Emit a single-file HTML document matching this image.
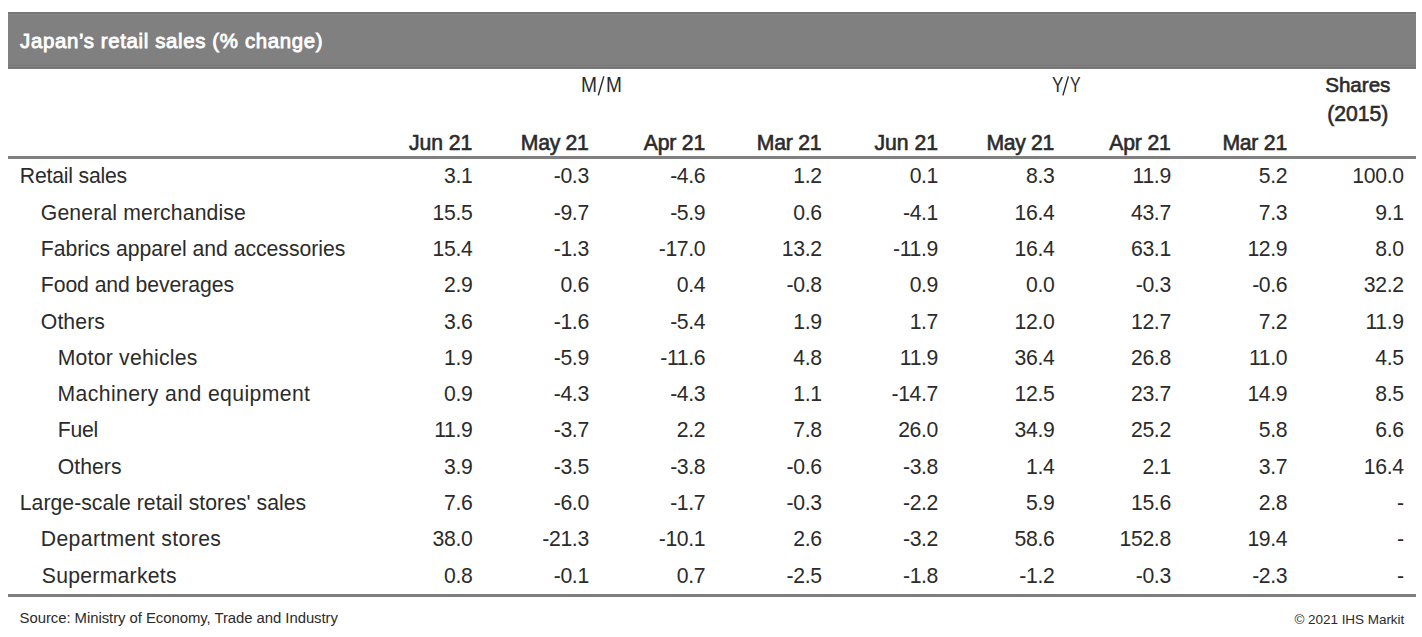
<!DOCTYPE html>
<html><head><meta charset="utf-8"><title>Japan's retail sales</title>
<style>
html,body{margin:0;padding:0;background:#fff;}
body{width:1422px;height:637px;position:relative;overflow:hidden;font-family:"Liberation Sans", sans-serif;}
.t{position:absolute;white-space:nowrap;line-height:1;}
.bar{position:absolute;left:8px;width:1408px;top:12px;height:57px;background:#7f807f;}
.l{position:absolute;left:8px;width:1408px;}
</style></head><body>
<div class="bar"></div>
<div class="l" style="top:12px;height:2px;background:#767676"></div>
<div class="l" style="top:14px;height:1px;background:#878787"></div>
<div class="l" style="top:65px;height:1px;background:#757575"></div>
<div class="l" style="top:66px;height:1px;background:#868686"></div>
<div class="l" style="top:67px;height:1px;background:#6f6f6f"></div>
<div class="l" style="top:68px;height:1px;background:#7b7b7b"></div>
<div class="l" style="top:156px;height:3px;background:#808080"></div>
<div class="l" style="top:594px;height:3px;background:#7e7e7e"></div>
<svg width="1422" height="637" style="position:absolute;left:0;top:0"><g stroke="#2b2b2b" stroke-width="1.45" stroke-linecap="butt"><line x1="598.3" y1="95.4" x2="603.8" y2="76.4"/><line x1="1062.9" y1="95.4" x2="1068.4" y2="76.4"/></g></svg>
<div class="t" style="left:20.12px;top:31px;font-size:20.4px;font-weight:400;color:#ffffff;letter-spacing:0.645px;-webkit-text-stroke:0.85px #ffffff;">Japan’s retail sales (% change)</div>
<div class="t" style="left:580.59px;top:74px;font-size:21.2px;font-weight:400;color:#2b2b2b;transform:scaleX(0.9067);transform-origin:0 0;">M</div>
<div class="t" style="left:606.30px;top:74px;font-size:21.2px;font-weight:400;color:#2b2b2b;transform:scaleX(0.9000);transform-origin:0 0;">M</div>
<div class="t" style="left:1051.50px;top:74px;font-size:21.2px;font-weight:400;color:#2b2b2b;transform:scaleX(0.8071);transform-origin:0 0;">Y</div>
<div class="t" style="left:1070.40px;top:74px;font-size:21.2px;font-weight:400;color:#2b2b2b;transform:scaleX(0.7500);transform-origin:0 0;">Y</div>
<div class="t" style="left:1325.20px;top:75px;font-size:20.6px;font-weight:400;color:#2b2b2b;letter-spacing:-0.011px;-webkit-text-stroke:0.6px #2b2b2b;">Shares</div>
<div class="t" style="left:1327.30px;top:103px;font-size:21.2px;font-weight:400;color:#2b2b2b;letter-spacing:-0.038px;-webkit-text-stroke:0.6px #2b2b2b;">(2015)</div>
<div class="t" style="left:408.90px;top:132px;font-size:21.2px;font-weight:400;color:#2b2b2b;letter-spacing:-0.026px;-webkit-text-stroke:0.6px #2b2b2b;">Jun 21</div>
<div class="t" style="left:520.80px;top:132px;font-size:21.2px;font-weight:400;color:#2b2b2b;letter-spacing:-0.299px;-webkit-text-stroke:0.6px #2b2b2b;">May 21</div>
<div class="t" style="left:643.70px;top:132px;font-size:21.2px;font-weight:400;color:#2b2b2b;letter-spacing:-0.188px;-webkit-text-stroke:0.6px #2b2b2b;">Apr 21</div>
<div class="t" style="left:756.80px;top:132px;font-size:21.2px;font-weight:400;color:#2b2b2b;letter-spacing:-0.232px;-webkit-text-stroke:0.6px #2b2b2b;">Mar 21</div>
<div class="t" style="left:874.50px;top:132px;font-size:21.2px;font-weight:400;color:#2b2b2b;letter-spacing:-0.026px;-webkit-text-stroke:0.6px #2b2b2b;">Jun 21</div>
<div class="t" style="left:986.40px;top:132px;font-size:21.2px;font-weight:400;color:#2b2b2b;letter-spacing:-0.299px;-webkit-text-stroke:0.6px #2b2b2b;">May 21</div>
<div class="t" style="left:1109.30px;top:132px;font-size:21.2px;font-weight:400;color:#2b2b2b;letter-spacing:-0.188px;-webkit-text-stroke:0.6px #2b2b2b;">Apr 21</div>
<div class="t" style="left:1222.40px;top:132px;font-size:21.2px;font-weight:400;color:#2b2b2b;letter-spacing:-0.232px;-webkit-text-stroke:0.6px #2b2b2b;">Mar 21</div>
<div class="t" style="left:19.80px;top:165px;font-size:21.2px;font-weight:400;color:#2b2b2b;letter-spacing:-0.193px;">Retail sales</div>
<div class="t" style="right:949.57px;top:165px;font-size:21.2px;font-weight:400;color:#2b2b2b;letter-spacing:-0.350px;">3.1</div>
<div class="t" style="right:833.17px;top:165px;font-size:21.2px;font-weight:400;color:#2b2b2b;letter-spacing:-0.350px;">-0.3</div>
<div class="t" style="right:716.77px;top:165px;font-size:21.2px;font-weight:400;color:#2b2b2b;letter-spacing:-0.350px;">-4.6</div>
<div class="t" style="right:600.37px;top:165px;font-size:21.2px;font-weight:400;color:#2b2b2b;letter-spacing:-0.350px;">1.2</div>
<div class="t" style="right:483.97px;top:165px;font-size:21.2px;font-weight:400;color:#2b2b2b;letter-spacing:-0.350px;">0.1</div>
<div class="t" style="right:367.57px;top:165px;font-size:21.2px;font-weight:400;color:#2b2b2b;letter-spacing:-0.350px;">8.3</div>
<div class="t" style="right:251.17px;top:165px;font-size:21.2px;font-weight:400;color:#2b2b2b;letter-spacing:-0.350px;">11.9</div>
<div class="t" style="right:134.77px;top:165px;font-size:21.2px;font-weight:400;color:#2b2b2b;letter-spacing:-0.350px;">5.2</div>
<div class="t" style="right:18.37px;top:165px;font-size:21.2px;font-weight:400;color:#2b2b2b;letter-spacing:-0.350px;">100.0</div>
<div class="t" style="left:40.80px;top:202px;font-size:21.2px;font-weight:400;color:#2b2b2b;letter-spacing:0.140px;">General merchandise</div>
<div class="t" style="right:949.57px;top:202px;font-size:21.2px;font-weight:400;color:#2b2b2b;letter-spacing:-0.350px;">15.5</div>
<div class="t" style="right:833.17px;top:202px;font-size:21.2px;font-weight:400;color:#2b2b2b;letter-spacing:-0.350px;">-9.7</div>
<div class="t" style="right:716.77px;top:202px;font-size:21.2px;font-weight:400;color:#2b2b2b;letter-spacing:-0.350px;">-5.9</div>
<div class="t" style="right:600.37px;top:202px;font-size:21.2px;font-weight:400;color:#2b2b2b;letter-spacing:-0.350px;">0.6</div>
<div class="t" style="right:483.97px;top:202px;font-size:21.2px;font-weight:400;color:#2b2b2b;letter-spacing:-0.350px;">-4.1</div>
<div class="t" style="right:367.57px;top:202px;font-size:21.2px;font-weight:400;color:#2b2b2b;letter-spacing:-0.350px;">16.4</div>
<div class="t" style="right:251.17px;top:202px;font-size:21.2px;font-weight:400;color:#2b2b2b;letter-spacing:-0.350px;">43.7</div>
<div class="t" style="right:134.77px;top:202px;font-size:21.2px;font-weight:400;color:#2b2b2b;letter-spacing:-0.350px;">7.3</div>
<div class="t" style="right:18.37px;top:202px;font-size:21.2px;font-weight:400;color:#2b2b2b;letter-spacing:-0.350px;">9.1</div>
<div class="t" style="left:40.80px;top:238px;font-size:21.2px;font-weight:400;color:#2b2b2b;letter-spacing:-0.014px;">Fabrics apparel and accessories</div>
<div class="t" style="right:949.57px;top:238px;font-size:21.2px;font-weight:400;color:#2b2b2b;letter-spacing:-0.350px;">15.4</div>
<div class="t" style="right:833.17px;top:238px;font-size:21.2px;font-weight:400;color:#2b2b2b;letter-spacing:-0.350px;">-1.3</div>
<div class="t" style="right:716.77px;top:238px;font-size:21.2px;font-weight:400;color:#2b2b2b;letter-spacing:-0.350px;">-17.0</div>
<div class="t" style="right:600.37px;top:238px;font-size:21.2px;font-weight:400;color:#2b2b2b;letter-spacing:-0.350px;">13.2</div>
<div class="t" style="right:483.97px;top:238px;font-size:21.2px;font-weight:400;color:#2b2b2b;letter-spacing:-0.350px;">-11.9</div>
<div class="t" style="right:367.57px;top:238px;font-size:21.2px;font-weight:400;color:#2b2b2b;letter-spacing:-0.350px;">16.4</div>
<div class="t" style="right:251.17px;top:238px;font-size:21.2px;font-weight:400;color:#2b2b2b;letter-spacing:-0.350px;">63.1</div>
<div class="t" style="right:134.77px;top:238px;font-size:21.2px;font-weight:400;color:#2b2b2b;letter-spacing:-0.350px;">12.9</div>
<div class="t" style="right:18.37px;top:238px;font-size:21.2px;font-weight:400;color:#2b2b2b;letter-spacing:-0.350px;">8.0</div>
<div class="t" style="left:40.80px;top:274px;font-size:21.2px;font-weight:400;color:#2b2b2b;letter-spacing:-0.069px;">Food and beverages</div>
<div class="t" style="right:949.57px;top:274px;font-size:21.2px;font-weight:400;color:#2b2b2b;letter-spacing:-0.350px;">2.9</div>
<div class="t" style="right:833.17px;top:274px;font-size:21.2px;font-weight:400;color:#2b2b2b;letter-spacing:-0.350px;">0.6</div>
<div class="t" style="right:716.77px;top:274px;font-size:21.2px;font-weight:400;color:#2b2b2b;letter-spacing:-0.350px;">0.4</div>
<div class="t" style="right:600.37px;top:274px;font-size:21.2px;font-weight:400;color:#2b2b2b;letter-spacing:-0.350px;">-0.8</div>
<div class="t" style="right:483.97px;top:274px;font-size:21.2px;font-weight:400;color:#2b2b2b;letter-spacing:-0.350px;">0.9</div>
<div class="t" style="right:367.57px;top:274px;font-size:21.2px;font-weight:400;color:#2b2b2b;letter-spacing:-0.350px;">0.0</div>
<div class="t" style="right:251.17px;top:274px;font-size:21.2px;font-weight:400;color:#2b2b2b;letter-spacing:-0.350px;">-0.3</div>
<div class="t" style="right:134.77px;top:274px;font-size:21.2px;font-weight:400;color:#2b2b2b;letter-spacing:-0.350px;">-0.6</div>
<div class="t" style="right:18.37px;top:274px;font-size:21.2px;font-weight:400;color:#2b2b2b;letter-spacing:-0.350px;">32.2</div>
<div class="t" style="left:40.80px;top:311px;font-size:21.2px;font-weight:400;color:#2b2b2b;letter-spacing:0.102px;">Others</div>
<div class="t" style="right:949.57px;top:311px;font-size:21.2px;font-weight:400;color:#2b2b2b;letter-spacing:-0.350px;">3.6</div>
<div class="t" style="right:833.17px;top:311px;font-size:21.2px;font-weight:400;color:#2b2b2b;letter-spacing:-0.350px;">-1.6</div>
<div class="t" style="right:716.77px;top:311px;font-size:21.2px;font-weight:400;color:#2b2b2b;letter-spacing:-0.350px;">-5.4</div>
<div class="t" style="right:600.37px;top:311px;font-size:21.2px;font-weight:400;color:#2b2b2b;letter-spacing:-0.350px;">1.9</div>
<div class="t" style="right:483.97px;top:311px;font-size:21.2px;font-weight:400;color:#2b2b2b;letter-spacing:-0.350px;">1.7</div>
<div class="t" style="right:367.57px;top:311px;font-size:21.2px;font-weight:400;color:#2b2b2b;letter-spacing:-0.350px;">12.0</div>
<div class="t" style="right:251.17px;top:311px;font-size:21.2px;font-weight:400;color:#2b2b2b;letter-spacing:-0.350px;">12.7</div>
<div class="t" style="right:134.77px;top:311px;font-size:21.2px;font-weight:400;color:#2b2b2b;letter-spacing:-0.350px;">7.2</div>
<div class="t" style="right:18.37px;top:311px;font-size:21.2px;font-weight:400;color:#2b2b2b;letter-spacing:-0.350px;">11.9</div>
<div class="t" style="left:57.70px;top:347px;font-size:21.2px;font-weight:400;color:#2b2b2b;letter-spacing:0.231px;">Motor vehicles</div>
<div class="t" style="right:949.57px;top:347px;font-size:21.2px;font-weight:400;color:#2b2b2b;letter-spacing:-0.350px;">1.9</div>
<div class="t" style="right:833.17px;top:347px;font-size:21.2px;font-weight:400;color:#2b2b2b;letter-spacing:-0.350px;">-5.9</div>
<div class="t" style="right:716.77px;top:347px;font-size:21.2px;font-weight:400;color:#2b2b2b;letter-spacing:-0.350px;">-11.6</div>
<div class="t" style="right:600.37px;top:347px;font-size:21.2px;font-weight:400;color:#2b2b2b;letter-spacing:-0.350px;">4.8</div>
<div class="t" style="right:483.97px;top:347px;font-size:21.2px;font-weight:400;color:#2b2b2b;letter-spacing:-0.350px;">11.9</div>
<div class="t" style="right:367.57px;top:347px;font-size:21.2px;font-weight:400;color:#2b2b2b;letter-spacing:-0.350px;">36.4</div>
<div class="t" style="right:251.17px;top:347px;font-size:21.2px;font-weight:400;color:#2b2b2b;letter-spacing:-0.350px;">26.8</div>
<div class="t" style="right:134.77px;top:347px;font-size:21.2px;font-weight:400;color:#2b2b2b;letter-spacing:-0.350px;">11.0</div>
<div class="t" style="right:18.37px;top:347px;font-size:21.2px;font-weight:400;color:#2b2b2b;letter-spacing:-0.350px;">4.5</div>
<div class="t" style="left:57.50px;top:383px;font-size:21.2px;font-weight:400;color:#2b2b2b;letter-spacing:0.395px;">Machinery and equipment</div>
<div class="t" style="right:949.57px;top:383px;font-size:21.2px;font-weight:400;color:#2b2b2b;letter-spacing:-0.350px;">0.9</div>
<div class="t" style="right:833.17px;top:383px;font-size:21.2px;font-weight:400;color:#2b2b2b;letter-spacing:-0.350px;">-4.3</div>
<div class="t" style="right:716.77px;top:383px;font-size:21.2px;font-weight:400;color:#2b2b2b;letter-spacing:-0.350px;">-4.3</div>
<div class="t" style="right:600.37px;top:383px;font-size:21.2px;font-weight:400;color:#2b2b2b;letter-spacing:-0.350px;">1.1</div>
<div class="t" style="right:483.97px;top:383px;font-size:21.2px;font-weight:400;color:#2b2b2b;letter-spacing:-0.350px;">-14.7</div>
<div class="t" style="right:367.57px;top:383px;font-size:21.2px;font-weight:400;color:#2b2b2b;letter-spacing:-0.350px;">12.5</div>
<div class="t" style="right:251.17px;top:383px;font-size:21.2px;font-weight:400;color:#2b2b2b;letter-spacing:-0.350px;">23.7</div>
<div class="t" style="right:134.77px;top:383px;font-size:21.2px;font-weight:400;color:#2b2b2b;letter-spacing:-0.350px;">14.9</div>
<div class="t" style="right:18.37px;top:383px;font-size:21.2px;font-weight:400;color:#2b2b2b;letter-spacing:-0.350px;">8.5</div>
<div class="t" style="left:57.70px;top:419px;font-size:21.2px;font-weight:400;color:#2b2b2b;letter-spacing:-0.236px;">Fuel</div>
<div class="t" style="right:949.57px;top:419px;font-size:21.2px;font-weight:400;color:#2b2b2b;letter-spacing:-0.350px;">11.9</div>
<div class="t" style="right:833.17px;top:419px;font-size:21.2px;font-weight:400;color:#2b2b2b;letter-spacing:-0.350px;">-3.7</div>
<div class="t" style="right:716.77px;top:419px;font-size:21.2px;font-weight:400;color:#2b2b2b;letter-spacing:-0.350px;">2.2</div>
<div class="t" style="right:600.37px;top:419px;font-size:21.2px;font-weight:400;color:#2b2b2b;letter-spacing:-0.350px;">7.8</div>
<div class="t" style="right:483.97px;top:419px;font-size:21.2px;font-weight:400;color:#2b2b2b;letter-spacing:-0.350px;">26.0</div>
<div class="t" style="right:367.57px;top:419px;font-size:21.2px;font-weight:400;color:#2b2b2b;letter-spacing:-0.350px;">34.9</div>
<div class="t" style="right:251.17px;top:419px;font-size:21.2px;font-weight:400;color:#2b2b2b;letter-spacing:-0.350px;">25.2</div>
<div class="t" style="right:134.77px;top:419px;font-size:21.2px;font-weight:400;color:#2b2b2b;letter-spacing:-0.350px;">5.8</div>
<div class="t" style="right:18.37px;top:419px;font-size:21.2px;font-weight:400;color:#2b2b2b;letter-spacing:-0.350px;">6.6</div>
<div class="t" style="left:57.70px;top:456px;font-size:21.2px;font-weight:400;color:#2b2b2b;letter-spacing:0.062px;">Others</div>
<div class="t" style="right:949.57px;top:456px;font-size:21.2px;font-weight:400;color:#2b2b2b;letter-spacing:-0.350px;">3.9</div>
<div class="t" style="right:833.17px;top:456px;font-size:21.2px;font-weight:400;color:#2b2b2b;letter-spacing:-0.350px;">-3.5</div>
<div class="t" style="right:716.77px;top:456px;font-size:21.2px;font-weight:400;color:#2b2b2b;letter-spacing:-0.350px;">-3.8</div>
<div class="t" style="right:600.37px;top:456px;font-size:21.2px;font-weight:400;color:#2b2b2b;letter-spacing:-0.350px;">-0.6</div>
<div class="t" style="right:483.97px;top:456px;font-size:21.2px;font-weight:400;color:#2b2b2b;letter-spacing:-0.350px;">-3.8</div>
<div class="t" style="right:367.57px;top:456px;font-size:21.2px;font-weight:400;color:#2b2b2b;letter-spacing:-0.350px;">1.4</div>
<div class="t" style="right:251.17px;top:456px;font-size:21.2px;font-weight:400;color:#2b2b2b;letter-spacing:-0.350px;">2.1</div>
<div class="t" style="right:134.77px;top:456px;font-size:21.2px;font-weight:400;color:#2b2b2b;letter-spacing:-0.350px;">3.7</div>
<div class="t" style="right:18.37px;top:456px;font-size:21.2px;font-weight:400;color:#2b2b2b;letter-spacing:-0.350px;">16.4</div>
<div class="t" style="left:19.80px;top:492px;font-size:21.2px;font-weight:400;color:#2b2b2b;letter-spacing:0.029px;">Large-scale retail stores' sales</div>
<div class="t" style="right:949.57px;top:492px;font-size:21.2px;font-weight:400;color:#2b2b2b;letter-spacing:-0.350px;">7.6</div>
<div class="t" style="right:833.17px;top:492px;font-size:21.2px;font-weight:400;color:#2b2b2b;letter-spacing:-0.350px;">-6.0</div>
<div class="t" style="right:716.77px;top:492px;font-size:21.2px;font-weight:400;color:#2b2b2b;letter-spacing:-0.350px;">-1.7</div>
<div class="t" style="right:600.37px;top:492px;font-size:21.2px;font-weight:400;color:#2b2b2b;letter-spacing:-0.350px;">-0.3</div>
<div class="t" style="right:483.97px;top:492px;font-size:21.2px;font-weight:400;color:#2b2b2b;letter-spacing:-0.350px;">-2.2</div>
<div class="t" style="right:367.57px;top:492px;font-size:21.2px;font-weight:400;color:#2b2b2b;letter-spacing:-0.350px;">5.9</div>
<div class="t" style="right:251.17px;top:492px;font-size:21.2px;font-weight:400;color:#2b2b2b;letter-spacing:-0.350px;">15.6</div>
<div class="t" style="right:134.77px;top:492px;font-size:21.2px;font-weight:400;color:#2b2b2b;letter-spacing:-0.350px;">2.8</div>
<div class="t" style="right:18.29px;top:492px;font-size:21.2px;font-weight:400;color:#2b2b2b;letter-spacing:-0.350px;">-</div>
<div class="t" style="left:40.80px;top:528px;font-size:21.2px;font-weight:400;color:#2b2b2b;letter-spacing:0.363px;">Department stores</div>
<div class="t" style="right:949.57px;top:528px;font-size:21.2px;font-weight:400;color:#2b2b2b;letter-spacing:-0.350px;">38.0</div>
<div class="t" style="right:833.17px;top:528px;font-size:21.2px;font-weight:400;color:#2b2b2b;letter-spacing:-0.350px;">-21.3</div>
<div class="t" style="right:716.77px;top:528px;font-size:21.2px;font-weight:400;color:#2b2b2b;letter-spacing:-0.350px;">-10.1</div>
<div class="t" style="right:600.37px;top:528px;font-size:21.2px;font-weight:400;color:#2b2b2b;letter-spacing:-0.350px;">2.6</div>
<div class="t" style="right:483.97px;top:528px;font-size:21.2px;font-weight:400;color:#2b2b2b;letter-spacing:-0.350px;">-3.2</div>
<div class="t" style="right:367.57px;top:528px;font-size:21.2px;font-weight:400;color:#2b2b2b;letter-spacing:-0.350px;">58.6</div>
<div class="t" style="right:251.17px;top:528px;font-size:21.2px;font-weight:400;color:#2b2b2b;letter-spacing:-0.350px;">152.8</div>
<div class="t" style="right:134.77px;top:528px;font-size:21.2px;font-weight:400;color:#2b2b2b;letter-spacing:-0.350px;">19.4</div>
<div class="t" style="right:18.29px;top:528px;font-size:21.2px;font-weight:400;color:#2b2b2b;letter-spacing:-0.350px;">-</div>
<div class="t" style="left:41.80px;top:565px;font-size:21.2px;font-weight:400;color:#2b2b2b;letter-spacing:0.265px;">Supermarkets</div>
<div class="t" style="right:949.57px;top:565px;font-size:21.2px;font-weight:400;color:#2b2b2b;letter-spacing:-0.350px;">0.8</div>
<div class="t" style="right:833.17px;top:565px;font-size:21.2px;font-weight:400;color:#2b2b2b;letter-spacing:-0.350px;">-0.1</div>
<div class="t" style="right:716.77px;top:565px;font-size:21.2px;font-weight:400;color:#2b2b2b;letter-spacing:-0.350px;">0.7</div>
<div class="t" style="right:600.37px;top:565px;font-size:21.2px;font-weight:400;color:#2b2b2b;letter-spacing:-0.350px;">-2.5</div>
<div class="t" style="right:483.97px;top:565px;font-size:21.2px;font-weight:400;color:#2b2b2b;letter-spacing:-0.350px;">-1.8</div>
<div class="t" style="right:367.57px;top:565px;font-size:21.2px;font-weight:400;color:#2b2b2b;letter-spacing:-0.350px;">-1.2</div>
<div class="t" style="right:251.17px;top:565px;font-size:21.2px;font-weight:400;color:#2b2b2b;letter-spacing:-0.350px;">-0.3</div>
<div class="t" style="right:134.77px;top:565px;font-size:21.2px;font-weight:400;color:#2b2b2b;letter-spacing:-0.350px;">-2.3</div>
<div class="t" style="right:18.29px;top:565px;font-size:21.2px;font-weight:400;color:#2b2b2b;letter-spacing:-0.350px;">-</div>
<div class="t" style="left:19.60px;top:611px;font-size:14.9px;font-weight:400;color:#2b2b2b;letter-spacing:-0.054px;">Source: Ministry of Economy, Trade and Industry</div>
<div class="t" style="left:1294.50px;top:613px;font-size:13.5px;font-weight:400;color:#2b2b2b;letter-spacing:-0.046px;">© 2021 IHS Markit</div>
</body></html>
